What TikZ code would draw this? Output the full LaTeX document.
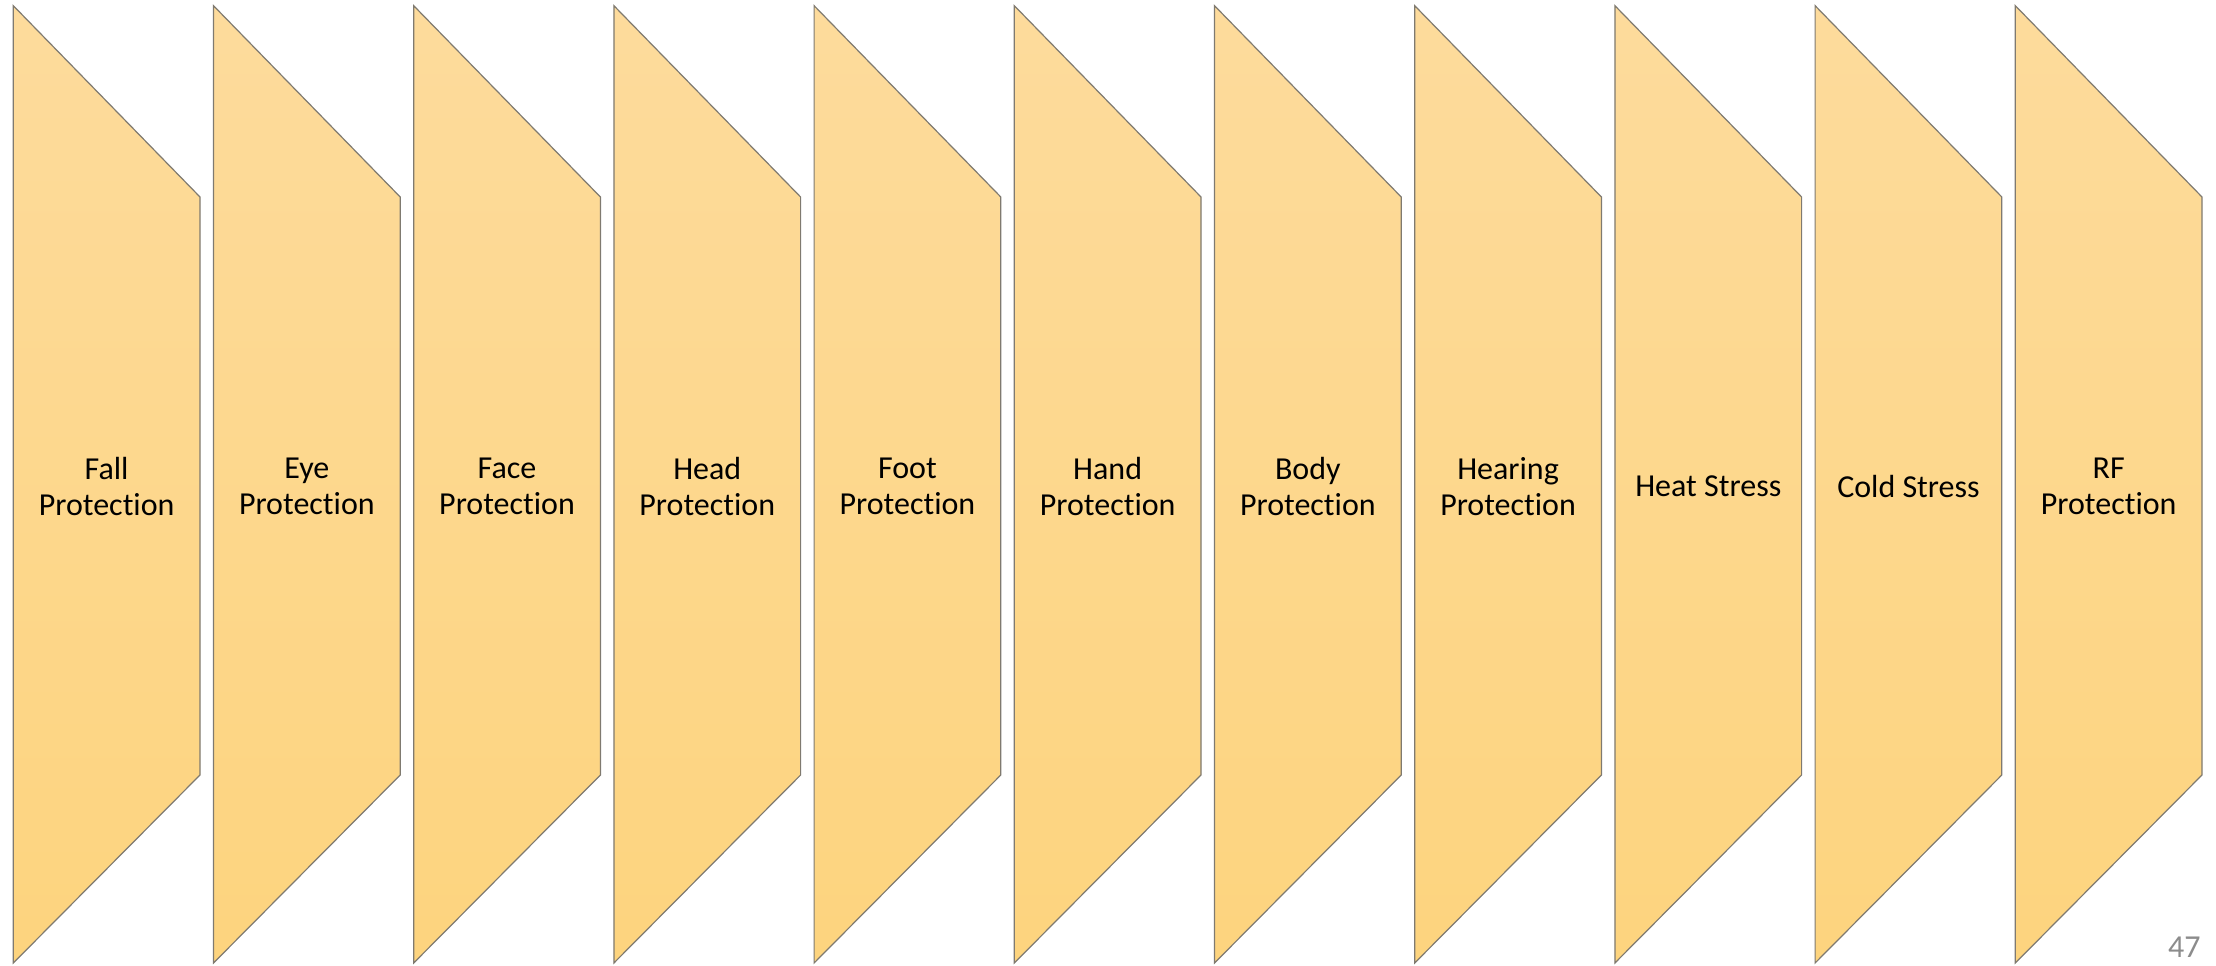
\documentclass[tikz,border=0pt]{standalone}
\usepackage{fontspec}
\setmainfont{Carlito}[Ligatures={NoCommon}]
\definecolor{topfill}{HTML}{FDDB9C}
\definecolor{botfill}{HTML}{FDD47E}
\definecolor{edge}{HTML}{7F7A70}
\definecolor{pagegray}{HTML}{8C8C8C}
\begin{document}
\begin{tikzpicture}[x=0.5pt,y=0.5pt,
  panel/.style={draw=edge,line width=0.6pt,top color=topfill,bottom color=botfill,line join=miter},
  lbl/.style={align=center,font=\fontsize{16pt}{17.7pt}\selectfont,text=black,inner sep=0pt}]
\path[use as bounding box] (0,0) rectangle (2216,965);
\foreach \i/\txt in {0/{Fall\\Protection},1/{Eye\\Protection},2/{Face\\Protection},3/{Head\\Protection},4/{Foot\\Protection},5/{Hand\\Protection},6/{Body\\Protection},7/{Hearing\\Protection},8/{Heat Stress},9/{Cold Stress},10/{RF\\Protection}} {
  \pgfmathsetmacro\L{13.3+200.2*\i}
  \pgfmathsetmacro\R{\L+186.7}
  \pgfmathsetmacro\C{\L+93.35}
  \draw[panel] (\L,959.3) -- (\R,768) -- (\R,190) -- (\L,2) -- cycle;
  \node[lbl] (p\i) at (\C,478.5) {\txt};
}
\node[anchor=base east,inner sep=0pt,text=pagegray,font=\fontsize{16pt}{19pt}\selectfont] (pagenum) at (2201,8) {47};
\end{tikzpicture}
\end{document}
